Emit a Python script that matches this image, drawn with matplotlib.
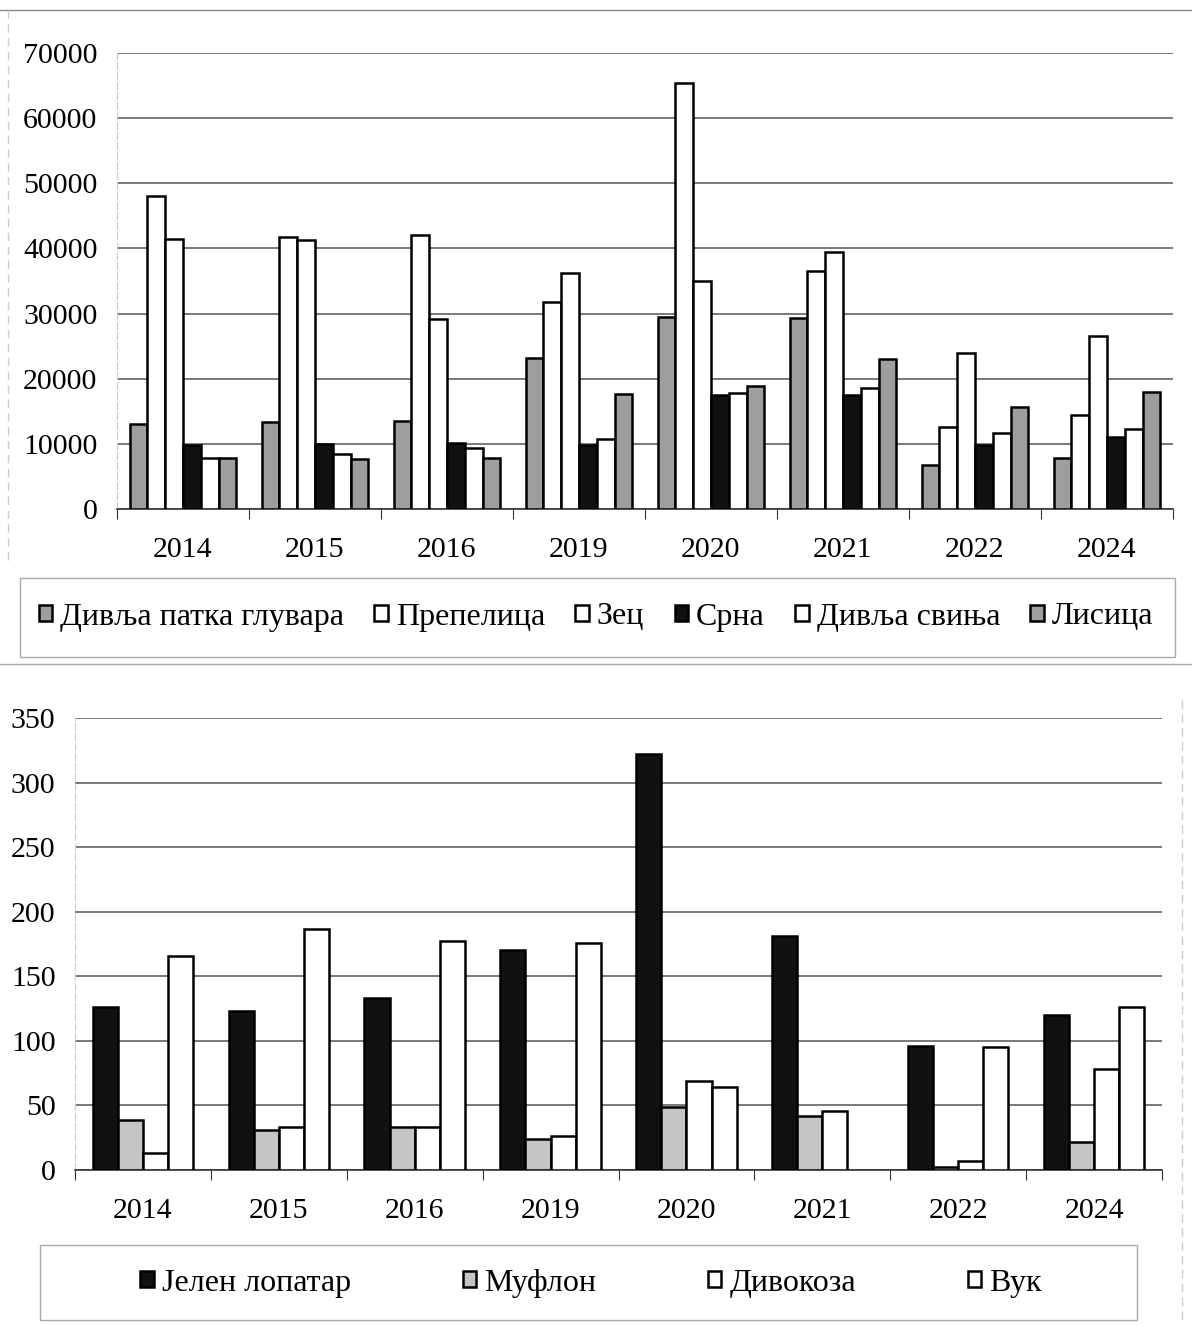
import matplotlib
matplotlib.use("Agg")
import matplotlib.pyplot as plt
import numpy as np
from matplotlib.patches import Patch, Rectangle
from matplotlib.lines import Line2D

plt.rcParams['font.family'] = ['Liberation Serif', 'DejaVu Serif']

years = ['2014', '2015', '2016', '2019', '2020', '2021', '2022', '2024']

# Top chart series
top_names = ['Дивља патка глувара', 'Препелица', 'Зец', 'Срна', 'Дивља свиња', 'Лисица']
patka   = [13000, 13300, 13500, 23200, 29400, 29300, 6700, 7800]
prepel  = [48100, 41800, 42000, 31800, 65400, 36600, 12600, 14400]
zec     = [41400, 41300, 29200, 36200, 35000, 39500, 24000, 26600]
srna    = [9900, 10000, 10100, 9800, 17500, 17500, 9900, 11100]
svinja  = [7800, 8400, 9400, 10700, 17800, 18500, 11700, 12300]
lisica  = [7800, 7700, 7800, 17700, 18900, 23000, 15700, 18000]
top_ticks = [0, 10000, 20000, 30000, 40000, 50000, 60000, 70000]

# Bottom chart series (no value for Вук in 2021)
bot_names = ['Јелен лопатар', 'Муфлон', 'Дивокоза', 'Вук']
jelen    = [126, 123, 133, 170, 322, 181, 96, 120]
muflon   = [39, 31, 33, 24, 49, 42, 2, 22]
divokoza = [13, 33, 33, 26, 69, 46, 7, 78]
vuk      = [166, 187, 177, 176, 64, np.nan, 95, 126]
bot_ticks = [0, 50, 100, 150, 200, 250, 300, 350]

GRAY = '#9e9e9e'
LGRAY = '#c4c4c4'
top_colors = [GRAY, 'white', 'white', '#111111', 'white', GRAY]
bot_colors = ['#111111', LGRAY, 'white', 'white']

W, H = 1192, 1326
fig = plt.figure(figsize=(W / 100, H / 100), dpi=100)
FS = 21.5
LFS = 23

def setup(ax, ticks, ylim):
    ax.set_ylim(*ylim)
    ax.set_xlim(-0.5, len(years) - 0.5)
    ax.set_yticks(ticks)
    ax.set_yticklabels([str(t) for t in ticks], fontsize=FS)
    ax.tick_params(axis='y', length=0, pad=14)
    ax.yaxis.grid(True, color='#555555', linewidth=1.1)
    ax.set_axisbelow(True)
    for s in ['top', 'right']:
        ax.spines[s].set_visible(False)
    ax.spines['left'].set_color('#cccccc')
    ax.spines['left'].set_linestyle((0, (6, 3)))
    ax.spines['left'].set_linewidth(0.8)
    ax.spines['bottom'].set_color('#333333')
    ax.spines['bottom'].set_linewidth(1.2)
    ax.set_xticks(np.arange(len(years) + 1) - 0.5)
    ax.set_xticklabels([])
    ax.tick_params(axis='x', which='major', length=7, color='#333333', direction='out')
    ax.set_xticks(np.arange(len(years)), minor=True)
    ax.set_xticklabels(years, minor=True, fontsize=FS)
    ax.tick_params(axis='x', which='minor', length=0, pad=20)

def bars(ax, series, colors, group):
    n = len(series)
    w = group / n
    x = np.arange(len(years))
    conts = []
    for i, (vals, c) in enumerate(zip(series, colors)):
        off = (i - (n - 1) / 2) * w
        conts.append(ax.bar(x + off, vals, width=w, color=c, edgecolor='black',
                            linewidth=1.8, zorder=3))
    return conts

# top chart
ax1 = fig.add_axes([117 / W, 1 - 509 / H, (1173 - 117) / W, (509 - 53) / H])
setup(ax1, top_ticks, (0, 70000))
bars(ax1, [patka, prepel, zec, srna, svinja, lisica], top_colors, 0.81)

# bottom chart
ax2 = fig.add_axes([75 / W, 1 - 1170 / H, (1162 - 75) / W, (1170 - 718) / H])
setup(ax2, bot_ticks, (0, 350))
bars(ax2, [jelen, muflon, divokoza, vuk], bot_colors, 0.74)

# legends
def handles(names, colors):
    return [Patch(facecolor=c, edgecolor='black', linewidth=1.8, label=n)
            for n, c in zip(names, colors)]

fig.legend(handles=handles(top_names, top_colors), ncol=6, loc='center',
           bbox_to_anchor=(596 / W, 1 - 617 / H), frameon=False, fontsize=LFS,
           handlelength=0.42, handleheight=0.42, handletextpad=0.25,
           columnspacing=0.95, borderpad=0)
fig.legend(handles=handles(bot_names, bot_colors), ncol=4, loc='center',
           bbox_to_anchor=(591 / W, 1 - 1283 / H), frameon=False, fontsize=LFS,
           handlelength=0.42, handleheight=0.42, handletextpad=0.25,
           columnspacing=3.5, borderpad=0)

# frames
def frect(x0, y0, x1, y1):
    fig.patches.append(Rectangle((x0 / W, 1 - y1 / H), (x1 - x0) / W, (y1 - y0) / H,
                                 transform=fig.transFigure, fill=False,
                                 edgecolor='#aaaaaa', linewidth=1.0))
def fline(x0, y0, x1, y1, ls='-', c='#999999'):
    fig.add_artist(Line2D([x0 / W, x1 / W], [1 - y0 / H, 1 - y1 / H],
                          transform=fig.transFigure, color=c, linewidth=1.0, linestyle=ls))

frect(20, 578, 1175, 657)
frect(40, 1245, 1137, 1320)
fline(0, 10, 1192, 10, c='#888888')
fline(0, 664, 1192, 664, c='#aaaaaa')
fline(8, 10, 8, 560, ls=(0, (6, 4)), c='#cccccc')
fline(1182, 700, 1182, 1320, ls=(0, (6, 4)), c='#cccccc')

fig.savefig('out.png', dpi=100)
